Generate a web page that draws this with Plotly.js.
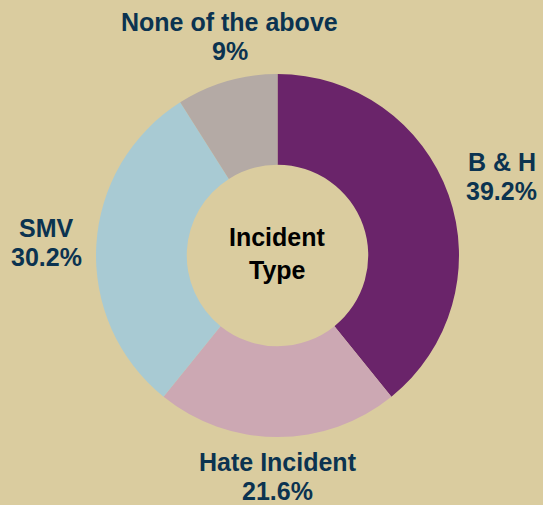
<!DOCTYPE html>
<html>
<head>
<meta charset="utf-8">
<script src="https://cdn.plot.ly/plotly-3.0.1.min.js"></script>
<style>html,body{margin:0;padding:0;background:#DACC9F;}#chart{width:543px;height:505px;}</style>
</head>
<body>
<div id="chart"></div>
<script>
var categories = ["B & H", "Hate Incident", "SMV", "None of the above"];
var percents = [39.2, 21.6, 30.2, 9];
var sliceColors = ["#6A246A", "#CCA8B3", "#A8CAD3", "#B4AAA5"];
var centerTitle = ["Incident", "Type"];

// layout-only styling for outside labels (distance from centre in px, extra x shift)
var labelDistance = [238, 221, 231, 228];
var labelXShift = [0, 0, 0, 16];

var W = 543, H = 505;
var margin = {l: 96, r: 84, t: 74, b: 68};
var plotW = W - margin.l - margin.r, plotH = H - margin.t - margin.b;
var labelFont = {family: "Liberation Sans, Arial, sans-serif", size: 25, color: "#0B3350"};
var centerFont = {family: "Liberation Sans, Arial, sans-serif", size: 25, color: "#000000"};

var trace = {
  type: "pie",
  labels: categories,
  values: percents,
  hole: 0.5,
  sort: false,
  direction: "clockwise",
  rotation: 0,
  marker: {colors: sliceColors, line: {width: 0}},
  textinfo: "none",
  hoverinfo: "label+value",
  showlegend: false
};

var annotations = [];
var total = percents.reduce(function (a, b) { return a + b; }, 0);
var cum = 0;
for (var i = 0; i < categories.length; i++) {
  var mid = (cum + percents[i] / 2) / total * 2 * Math.PI;
  cum += percents[i];
  var d = labelDistance[i];
  var px = 0.5 + d * Math.sin(mid) / plotW;
  var py = 0.5 + d * Math.cos(mid) / plotH;
  annotations.push({
    text: "<b>" + categories[i] + "</b>", x: px, y: py, xref: "paper", yref: "paper",
    xanchor: "center", yanchor: "middle", showarrow: false, font: labelFont,
    xshift: labelXShift[i], yshift: 14.5
  });
  annotations.push({
    text: "<b>" + percents[i] + "%</b>", x: px, y: py, xref: "paper", yref: "paper",
    xanchor: "center", yanchor: "middle", showarrow: false, font: labelFont,
    xshift: labelXShift[i], yshift: -14.5
  });
}
annotations.push({
  text: "<b>" + centerTitle[0] + "</b>", x: 0.5, y: 0.5, xref: "paper", yref: "paper",
  xanchor: "center", yanchor: "middle", showarrow: false, font: centerFont, yshift: 18.5
});
annotations.push({
  text: "<b>" + centerTitle[1] + "</b>", x: 0.5, y: 0.5, xref: "paper", yref: "paper",
  xanchor: "center", yanchor: "middle", showarrow: false, font: centerFont, yshift: -14.5
});

var layout = {
  width: W, height: H,
  margin: margin,
  paper_bgcolor: "#DACC9F",
  plot_bgcolor: "#DACC9F",
  showlegend: false,
  annotations: annotations
};

Plotly.newPlot("chart", [trace], layout, {displayModeBar: false});
</script>
</body>
</html>
